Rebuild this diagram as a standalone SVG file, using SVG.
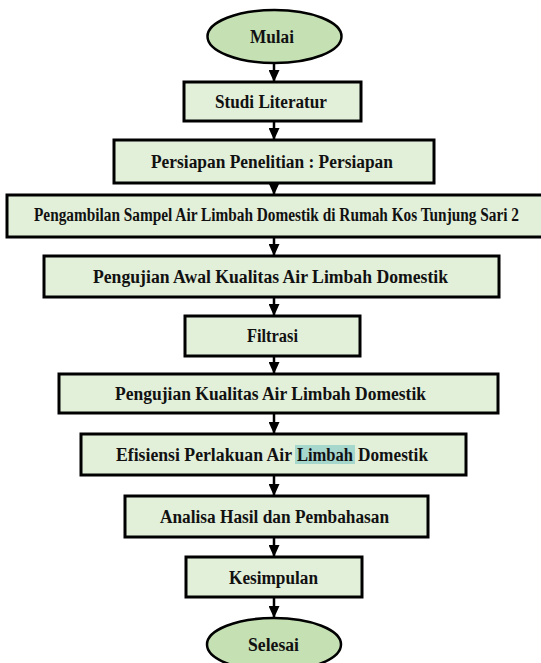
<svg xmlns="http://www.w3.org/2000/svg" width="541" height="663" viewBox="0 0 541 663">
<style>
.box{fill:#e2efd9;stroke:#000;stroke-width:3}
.oval{fill:#c5e0b3;stroke:#000;stroke-width:2.5}
.t{font-family:"Liberation Serif","Times New Roman",serif;font-weight:bold;font-size:18px;fill:#111}
.c{stroke:#000;stroke-width:2.5;fill:none}
</style>
<defs>
<marker id="ah" markerUnits="userSpaceOnUse" markerWidth="13" markerHeight="11" refX="12" refY="5.5" orient="auto">
<path d="M0,0 L12,5.5 L0,11 Z" fill="#000"/>
</marker>
</defs>
<rect width="541" height="663" fill="#fff"/>
<g id="connectors">
<line class="c" x1="274" y1="63" x2="274" y2="82" marker-end="url(#ah)"/>
<line class="c" x1="274" y1="121" x2="274" y2="140" marker-end="url(#ah)"/>
<line class="c" x1="274" y1="183" x2="274" y2="195" marker-end="url(#ah)"/>
<line class="c" x1="274" y1="237" x2="274" y2="256" marker-end="url(#ah)"/>
<line class="c" x1="274" y1="297" x2="274" y2="316" marker-end="url(#ah)"/>
<line class="c" x1="274" y1="356" x2="274" y2="374" marker-end="url(#ah)"/>
<line class="c" x1="274" y1="413" x2="274" y2="434" marker-end="url(#ah)"/>
<line class="c" x1="274" y1="475" x2="274" y2="496" marker-end="url(#ah)"/>
<line class="c" x1="274" y1="537" x2="274" y2="557" marker-end="url(#ah)"/>
<line class="c" x1="274" y1="597" x2="274" y2="618" marker-end="url(#ah)"/>
</g>
<g id="mulai">
<ellipse class="oval" cx="274.5" cy="36.5" rx="67" ry="26.5"/>
<text class="t" x="250" y="43" textLength="44" lengthAdjust="spacingAndGlyphs">Mulai</text>
</g>
<g id="studi">
<rect class="box" x="184" y="82" width="177" height="39"/>
<text class="t" x="215" y="108" textLength="112" lengthAdjust="spacingAndGlyphs">Studi Literatur</text>
</g>
<g id="persiapan">
<rect class="box" x="114" y="140" width="320" height="43"/>
<text class="t" x="151" y="167.5" textLength="242" lengthAdjust="spacingAndGlyphs">Persiapan Penelitian : Persiapan</text>
</g>
<g id="pengambilan">
<rect class="box" x="7" y="195" width="540" height="42"/>
<text class="t" x="34" y="221" font-size="17" textLength="485" lengthAdjust="spacingAndGlyphs">Pengambilan Sampel Air Limbah Domestik di Rumah Kos Tunjung Sari 2</text>
</g>
<g id="pengujian-awal">
<rect class="box" x="44" y="256" width="455" height="41"/>
<text class="t" x="93" y="283" textLength="355" lengthAdjust="spacingAndGlyphs">Pengujian Awal Kualitas Air Limbah Domestik</text>
</g>
<g id="filtrasi">
<rect class="box" x="185" y="316" width="175" height="40"/>
<text class="t" x="247" y="342" textLength="51" lengthAdjust="spacingAndGlyphs">Filtrasi</text>
</g>
<g id="pengujian-kualitas">
<rect class="box" x="59" y="374" width="439" height="39"/>
<text class="t" x="115" y="400" textLength="311" lengthAdjust="spacingAndGlyphs">Pengujian Kualitas Air Limbah Domestik</text>
</g>
<g id="efisiensi">
<rect class="box" x="81" y="434" width="385" height="41"/>
<rect x="295" y="445" width="60" height="19" fill="#a6d7cd"/>
<text class="t" x="116" y="461" textLength="176" lengthAdjust="spacingAndGlyphs">Efisiensi Perlakuan Air</text>
<text class="t" x="297" y="461" font-weight="normal" fill="#1d3f4f" textLength="56" lengthAdjust="spacingAndGlyphs">Limbah</text>
<text class="t" x="358" y="461" textLength="70" lengthAdjust="spacingAndGlyphs">Domestik</text>
</g>
<g id="analisa">
<rect class="box" x="125" y="496" width="303" height="41"/>
<text class="t" x="160" y="522.5" textLength="229" lengthAdjust="spacingAndGlyphs">Analisa Hasil dan Pembahasan</text>
</g>
<g id="kesimpulan">
<rect class="box" x="186" y="557" width="176" height="40"/>
<text class="t" x="229" y="584" textLength="89" lengthAdjust="spacingAndGlyphs">Kesimpulan</text>
</g>
<g id="selesai">
<ellipse class="oval" cx="274" cy="644.5" rx="67" ry="26.5"/>
<text class="t" x="248" y="651" textLength="51" lengthAdjust="spacingAndGlyphs">Selesai</text>
</g>
</svg>
